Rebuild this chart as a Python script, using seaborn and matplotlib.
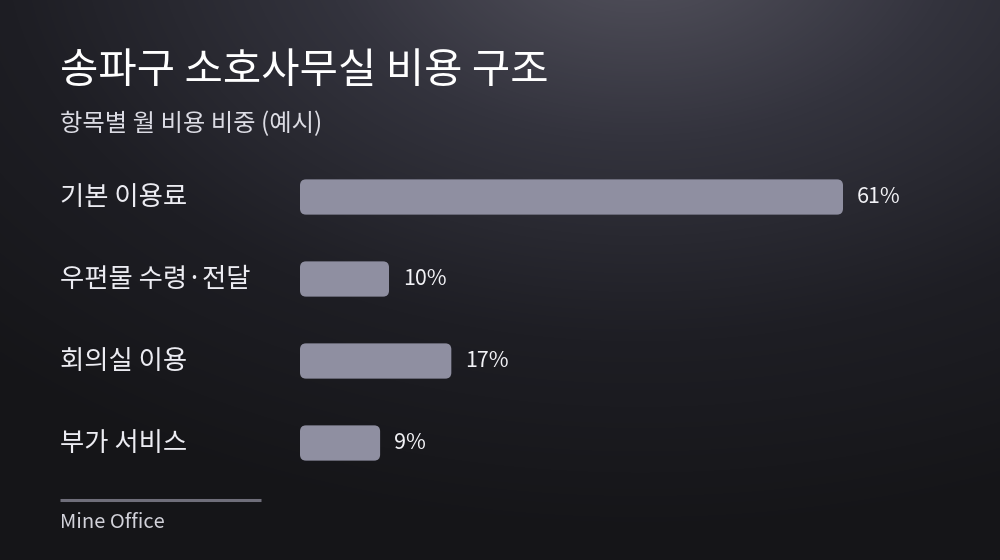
import numpy as np
import pandas as pd
import matplotlib
matplotlib.use('Agg')
import matplotlib.pyplot as plt
import matplotlib.transforms as mtrans
import seaborn as sns
from matplotlib.patches import FancyBboxPatch
from matplotlib.colors import LinearSegmentedColormap

# Data
categories = ['기본 이용료', '우편물 수령·전달', '회의실 이용', '부가 서비스']
shares = [61, 10, 17, 9]
value_labels = ['61%', '10%', '17%', '9%']

title = '송파구 소호사무실 비용 구조'
subtitle = '항목별 월 비용 비중 (예시)'
source = 'Mine Office'

df = pd.DataFrame({'item': categories, 'share': shares})

sns.set_theme(style='white')
plt.rcParams['font.family'] = ['Noto Sans CJK KR', 'DejaVu Sans']

W, H = 1000, 560
fig = plt.figure(figsize=(W / 100, H / 100), dpi=100)

# Background gradient (lighter glow at the top centre)
bg = fig.add_axes([0, 0, 1, 1])
yy, xx = np.mgrid[0:H, 0:W]
d = np.sqrt(((xx - 640) / 950.0) ** 2 + ((yy + 60) / 600.0) ** 2)
d = np.clip(d, 0, 1)
cmap = LinearSegmentedColormap.from_list('bg', ['#55545f', '#33333d', '#1e1e24', '#151518'], N=256)
bg.imshow(d, cmap=cmap, vmin=0, vmax=1, aspect='auto', extent=[0, W, H, 0])
bg.set_axis_off()

# Main axes in pixel geometry
ax_left, ax_right = 300, 1000
ax_top, ax_bot = 156, 484
ax = fig.add_axes([ax_left / W, (H - ax_bot) / H, (ax_right - ax_left) / W, (ax_bot - ax_top) / H])
ax.patch.set_alpha(0)

bar_color = '#8f8fa1'
sns.barplot(data=df, x='share', y='item', orient='h', color=bar_color,
            width=0.43, ax=ax, saturation=1)

px_per_x = 543 / 61
xmax = (ax_right - ax_left) / px_per_x
ax.set_xlim(0, xmax)
ax.set_ylim(3.5, -0.5)
px_per_y = (ax_bot - ax_top) / 4

# Swap the plain rectangles for rounded ones
r_px = 6
rects = list(ax.patches)
for i, p in enumerate(rects):
    x0, y0 = p.get_x(), p.get_y()
    w, h = p.get_width(), p.get_height()
    p.remove()
    fb = FancyBboxPatch((x0, y0), w, h,
                        boxstyle=f'round,pad=0,rounding_size={r_px / px_per_x}',
                        mutation_aspect=px_per_x / px_per_y,
                        facecolor=bar_color, edgecolor='none')
    ax.add_patch(fb)
    ax.text(x0 + w + 14 / px_per_x, y0 + h / 2, value_labels[i],
            ha='left', va='center', color='#f2f2f6', fontsize=15.5)

ax.set_axis_off()

# Category labels on the left margin
trans = mtrans.blended_transform_factory(fig.transFigure, ax.transData)
for i, c in enumerate(categories):
    ax.text(60 / W, i + 0.01, c, transform=trans, ha='left', va='center',
            color='#ececf2', fontsize=19)

# Title and subtitle
fig.text(60 / W, 1 - 72 / H, title, ha='left', va='center', color='#ffffff', fontsize=30)
fig.text(60 / W, 1 - 124 / H, subtitle, ha='left', va='center', color='#dcdce4', fontsize=17.5)

# Separator and source
bg.plot([60, 261], [500, 500], color='#6f6e7a', lw=2.2, solid_capstyle='butt')
bg.set_xlim(0, W)
bg.set_ylim(H, 0)
fig.text(60 / W, 1 - 522 / H, source, ha='left', va='center', color='#d2d2da', fontsize=14.5)

fig.savefig('out.png', dpi=100)
